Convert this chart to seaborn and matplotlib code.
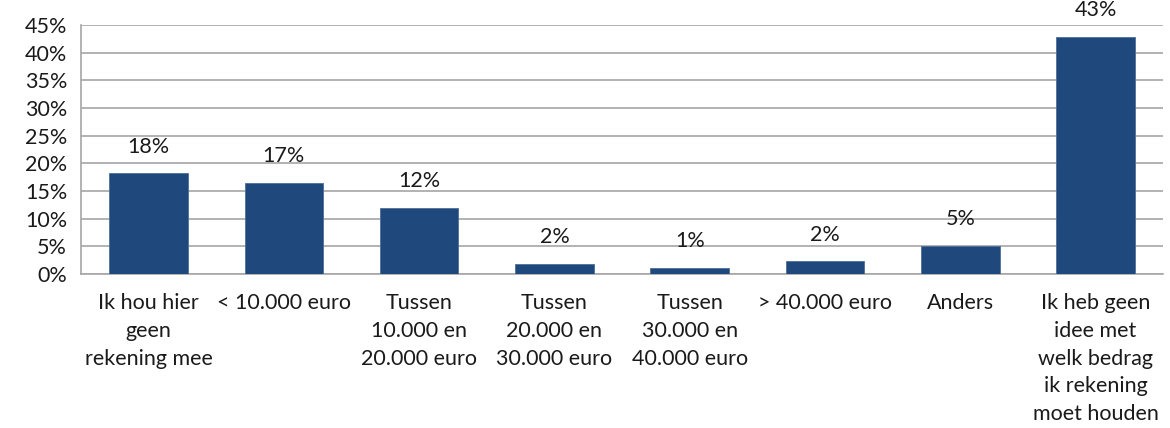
import matplotlib
matplotlib.use("Agg")
import matplotlib.pyplot as plt
import numpy as np
import pandas as pd
import seaborn as sns

# categories (Dutch), as shown on the x axis
categories = [
    "Ik hou hier\ngeen\nrekening mee",
    "< 10.000 euro",
    "Tussen\n10.000 en\n20.000 euro",
    "Tussen\n20.000 en\n30.000 euro",
    "Tussen\n30.000 en\n40.000 euro",
    "> 40.000 euro",
    "Anders",
    "Ik heb geen\nidee met\nwelk bedrag\nik rekening\nmoet houden",
]
shares = [18.2, 16.5, 12.0, 1.8, 1.1, 2.3, 5.1, 42.8]
share_labels = ["18%", "17%", "12%", "2%", "1%", "2%", "5%", "43%"]
y_ticks = list(range(0, 50, 5))

BAR_COLOR = "#1F497D"
GRID_COLOR = "#A6A6A6"
FS = 15.5

sns.set_style("white")
plt.rcParams["font.family"] = ["Lato", "DejaVu Sans"]

df = pd.DataFrame({"category": categories, "share": shares})

fig = plt.figure(figsize=(11.7, 4.28), dpi=100)
ax = fig.add_axes([0.0692, 0.36, 0.925, 0.5816])

sns.barplot(data=df, x="category", y="share", color=BAR_COLOR,
            saturation=1, width=0.58, ax=ax, zorder=3)
for p in ax.patches:
    p.set_edgecolor("#4F6E98")
    p.set_linewidth(0.6)

for i, (v, lab) in enumerate(zip(shares, share_labels)):
    ax.annotate(lab, (i, v), xytext=(0, 12), textcoords="offset points",
                ha="center", va="bottom", fontsize=FS, color="#1a1a1a")

ax.set_ylim(0, 45)
ax.set_xlim(-0.5, len(categories) - 0.5)
ax.set_yticks(y_ticks)
ax.set_yticklabels([f"{t}%" for t in y_ticks], fontsize=FS, color="#1a1a1a")
ax.yaxis.grid(True, color=GRID_COLOR, linewidth=1.2, zorder=0)
ax.set_axisbelow(True)

# category labels between boundary ticks
ax.set_xticks(range(len(categories)))
ax.set_xticklabels(categories, fontsize=FS, color="#1a1a1a", linespacing=1.48)
ax.tick_params(axis="x", which="major", length=0, pad=14)
ax.set_xticks(np.arange(-0.5, len(categories), 1.0), minor=True)
ax.tick_params(axis="x", which="minor", length=8, color=GRID_COLOR, width=1.2)
ax.tick_params(axis="y", length=8, color=GRID_COLOR, width=1.2, pad=2)
ax.set_xlabel("")
ax.set_ylabel("")

for side in ["top", "right"]:
    ax.spines[side].set_visible(False)
for side in ["left", "bottom"]:
    ax.spines[side].set_color(GRID_COLOR)
    ax.spines[side].set_linewidth(1.2)

fig.savefig("out.png", dpi=100)
